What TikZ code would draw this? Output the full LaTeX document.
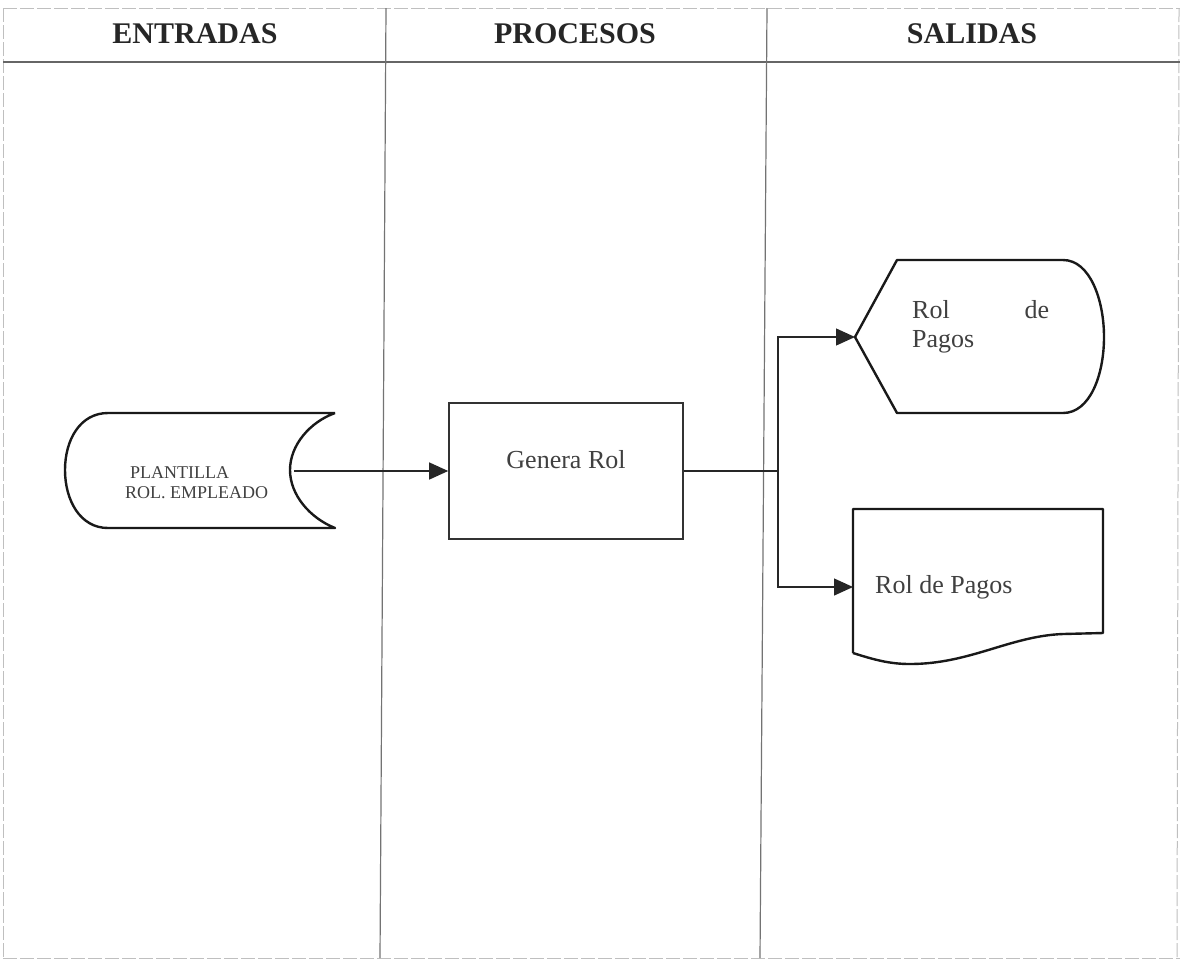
\documentclass[tikz,border=0pt]{standalone}
\usepackage{fontspec}
\setmainfont{Liberation Serif}
\usetikzlibrary{arrows.meta}
\tikzset{
  frameline/.style={draw=black!25, line width=1pt, dash pattern=on 14pt off 3pt},
  colline/.style={draw=black!55, line width=1.2pt},
  headline/.style={draw=black!60, line width=2pt},
  shapeline/.style={draw=black!90, line width=2.4pt, line join=round},
  conn/.style={draw=black!85, line width=1.3pt},
  arr/.style={conn, -{Triangle[length=19pt,width=17pt]}},
  headtxt/.style={font=\bfseries\fontsize{30}{34}\selectfont, text=black!85, anchor=base, inner sep=0pt},
  bigtxt/.style={font=\fontsize{26}{30}\selectfont, text=black!75, inner sep=0pt},
  smalltxt/.style={font=\fontsize{18}{21}\selectfont, text=black!75, inner sep=0pt, anchor=base west},
  procbox/.style={draw=black!80, line width=1.6pt, minimum width=234pt, minimum height=136pt, inner sep=0pt}
}
\begin{document}
\begin{tikzpicture}[x=1pt,y=-1pt]
\useasboundingbox (0,0) rectangle (1185,962);
% frame
\draw[frameline] (3,8) -- (1180,8);
\draw[frameline] (3,958) -- (1180,958);
\draw[frameline] (3,8) -- (3,958);
\draw[frameline] (1179,8) -- (1177,958);
\draw[headline] (3,62) -- (1180,62);
\draw[colline] (386,8) -- (380,958);
\draw[colline] (767,8) -- (760,958);
% headers
\node[headtxt] (hE) at (195,43) {ENTRADAS};
\node[headtxt] (hP) at (575,43) {PROCESOS};
\node[headtxt] (hS) at (972,43) {SALIDAS};
% stored data shape
\draw[shapeline] (335,413) -- (108,413)
  .. controls (80,413) and (65,440) .. (65,470)
  .. controls (65,500) and (80,528) .. (108,528)
  -- (335,528)
  .. controls (310,518) and (290,495) .. (290,470)
  .. controls (290,445) and (310,422) .. (335,413);
\node[smalltxt] (plant1) at (130,478) {PLANTILLA};
\node[smalltxt] (plant2) at (125,498) {ROL. EMPLEADO};
\coordinate (plant) at (294,471);
% process box
\node[procbox] (genera) at (566,471) {};
\node[bigtxt, anchor=base] (generaT) at (566,468) {Genera Rol};
% display shape
\draw[shapeline] (855,337) -- (897,260) -- (1063,260)
  .. controls (1090,260) and (1104,300) .. (1104,337)
  .. controls (1104,375) and (1090,413) .. (1063,413)
  -- (897,413) -- cycle;
\coordinate (disp) at (855,337);
\node[bigtxt, anchor=base west, text width=137pt, align=left] (dispT) at (912,318) {Rol\hfill de\\[-1pt]Pagos};
% document shape
\draw[shapeline] (853,653) -- (853,509) -- (1103,509) -- (1103,633) -- (1063,634)
  .. controls (1010,636) and (970,664) .. (910,664)
  .. controls (890,664) and (875,660) .. (853,653);
\coordinate (doc) at (853,587);
\node[bigtxt, anchor=base west] (docT) at (875,593) {Rol de Pagos};
% connectors
\coordinate (jn) at (778,471);
\draw[arr] (plant) -- (genera.west);
\draw[conn] (genera.east) -- (jn);
\draw[arr] (jn) |- (disp);
\draw[arr] (jn) |- (doc);
\end{tikzpicture}
\end{document}
